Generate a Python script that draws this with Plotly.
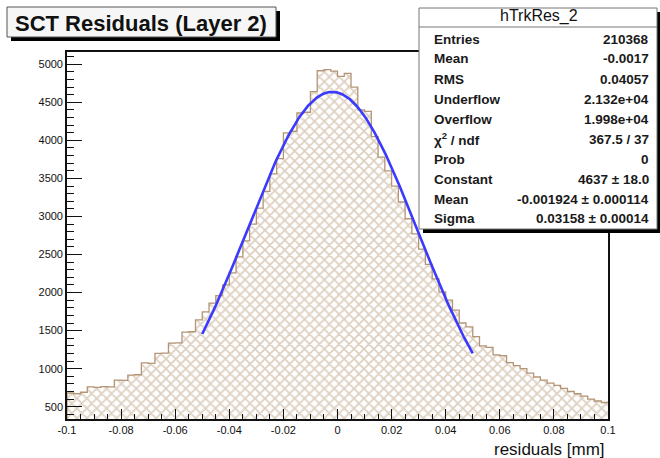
import plotly.graph_objects as go
import math

# ---------------- data ----------------
x_min, x_max, n_bins = -0.1, 0.1, 80
counts = [680, 670, 690, 760, 755, 765, 760, 850, 845, 915,
          920, 1075, 1070, 1200, 1205, 1335, 1340, 1480, 1485, 1640,
          1745, 1860, 1960, 2100, 2260, 2470, 2680, 2900, 3110, 3330,
          3560, 3760, 4100, 4120, 4360, 4370, 4640, 4915, 4930, 4910,
          4840, 4880, 4700, 4400, 4380, 4050, 3780, 3600, 3400, 3190,
          2970, 2770, 2570, 2370, 2180, 2010, 1900, 1770, 1600, 1550,
          1420, 1300, 1280, 1180, 1170, 1080, 1040, 1000, 940, 890,
          850, 810, 780, 740, 700, 670, 640, 600, 575, 555]

fit_constant = 4637.0
fit_mean = -0.001924
fit_sigma = 0.03158
fit_range = (-0.05, 0.05)

x_tickvals = [-0.1, -0.08, -0.06, -0.04, -0.02, 0, 0.02, 0.04, 0.06, 0.08, 0.1]
x_ticktext = ["-0.1", "-0.08", "-0.06", "-0.04", "-0.02", "0", "0.02", "0.04", "0.06", "0.08", "0.1"]
y_tickvals = [500, 1000, 1500, 2000, 2500, 3000, 3500, 4000, 4500, 5000]
y_ticktext = [str(v) for v in y_tickvals]

stats_title = "hTrkRes_2"
stats_labels = ["Entries", "Mean", "RMS", "Underflow", "Overflow", "χ<sup>2</sup> / ndf",
                "Prob", "Constant", "Mean", "Sigma"]
stats_values = ["210368", "-0.0017", "0.04057", "2.132e+04", "1.998e+04", "367.5 / 37",
                "0", "4637 ± 18.0", "-0.001924 ± 0.000114", "0.03158 ± 0.00014"]
title_text = "SCT Residuals (Layer 2)"
x_title = "residuals [mm]"

# ---------------- derived ----------------
bw = (x_max - x_min) / n_bins
centers = [x_min + bw * (i + 0.5) for i in range(n_bins)]
edges = [x_min + bw * i for i in range(n_bins + 1)]

n_fit = 301
fx = [fit_range[0] + (fit_range[1] - fit_range[0]) * i / (n_fit - 1) for i in range(n_fit)]
fy = [fit_constant * math.exp(-0.5 * ((v - fit_mean) / fit_sigma) ** 2) for v in fx]

# layout geometry (pixels)
W, H = 660, 458
L, R, T, B = 67, 608, 52, 419
PW, PH = R - L, B - T
y_lo, y_hi = 338.3, 5161.6

def px(xp):
    return (xp - L) / PW

def py(yp):
    return (B - yp) / PH

FONT = "Liberation Sans, Arial, Helvetica, sans-serif"
hatch = "#bb9f80"

fig = go.Figure()
fig.add_trace(go.Bar(
    x=centers, y=counts, width=bw,
    marker=dict(color="white", line=dict(width=0),
                pattern=dict(shape="x", fgcolor=hatch, bgcolor="white",
                             size=7, solidity=0.42)),
    showlegend=False, hoverinfo="skip"))
# histogram outline
fig.add_trace(go.Scatter(
    x=[edges[0]] + edges, y=[0] + counts + [counts[-1]],
    mode="lines", line=dict(color="#b39576", width=1.3, shape="hv"),
    showlegend=False, hoverinfo="skip"))
fig.add_trace(go.Scatter(
    x=fx, y=fy, mode="lines", line=dict(color="#3a3aff", width=2.6),
    showlegend=False, hoverinfo="skip"))

fig.update_layout(
    width=W, height=H,
    margin=dict(l=L, r=W - R, t=T, b=H - B),
    paper_bgcolor="white", plot_bgcolor="white",
    bargap=0,
    font=dict(family=FONT, color="#111"),
)
fig.update_xaxes(
    range=[x_min, x_max], showgrid=False, zeroline=False,
    showline=True, linecolor="#111", linewidth=1.6, mirror=True,
    ticks="inside", ticklen=10, tickwidth=1.3, tickcolor="#111",
    tickvals=x_tickvals, ticktext=x_ticktext,
    tickfont=dict(size=11, family=FONT, color="#111"),
    minor=dict(dtick=0.005, ticks="inside", ticklen=5, tickwidth=1, tickcolor="#111"),
)
fig.update_yaxes(
    range=[y_lo, y_hi], showgrid=False, zeroline=False,
    showline=True, linecolor="#111", linewidth=1.6, mirror=True,
    ticks="inside", ticklen=15, tickwidth=1.3, tickcolor="#111",
    tickvals=y_tickvals, ticktext=y_ticktext,
    tickfont=dict(size=11, family=FONT, color="#111"),
    minor=dict(dtick=100, ticks="inside", ticklen=7, tickwidth=1, tickcolor="#111"),
)

shapes = []
# title box with shadow
shapes.append(dict(type="rect", xref="paper", yref="paper",
                   x0=px(11), x1=px(280), y0=py(41), y1=py(11),
                   fillcolor="black", line=dict(width=0), layer="above"))
shapes.append(dict(type="rect", xref="paper", yref="paper",
                   x0=px(7), x1=px(276), y0=py(37), y1=py(7),
                   fillcolor="#f6f6f6", line=dict(color="#555", width=1), layer="above"))
# stats box with shadow
shapes.append(dict(type="rect", xref="paper", yref="paper",
                   x0=px(423), x1=px(662), y0=py(233), y1=py(12),
                   fillcolor="black", line=dict(width=0), layer="above"))
shapes.append(dict(type="rect", xref="paper", yref="paper",
                   x0=px(419), x1=px(657), y0=py(229), y1=py(8),
                   fillcolor="white", line=dict(color="#777", width=1), layer="above"))
shapes.append(dict(type="line", xref="paper", yref="paper",
                   x0=px(419), x1=px(657), y0=py(27), y1=py(27),
                   line=dict(color="#777", width=1), layer="above"))
fig.update_layout(shapes=shapes)

ann = []
ann.append(dict(text="<b>" + title_text + "</b>", xref="paper", yref="paper",
                x=px(141), y=py(23), xanchor="center", yanchor="middle",
                showarrow=False, font=dict(size=22, family=FONT, color="#111")))
ann.append(dict(text=stats_title, xref="paper", yref="paper",
                x=px(539), y=py(16), xanchor="center", yanchor="middle",
                showarrow=False, font=dict(size=16, family=FONT, color="#111")))
for i, (lab, val) in enumerate(zip(stats_labels, stats_values)):
    yy = 39 + 20 * i
    ann.append(dict(text="<b>" + lab + "</b>", xref="paper", yref="paper", x=px(432), y=py(yy),
                    xanchor="left", yanchor="middle", showarrow=False,
                    font=dict(size=13.5, family=FONT, color="#1a1a1a")))
    ann.append(dict(text="<b>" + val + "</b>", xref="paper", yref="paper", x=px(651), y=py(yy),
                    xanchor="right", yanchor="middle", showarrow=False,
                    font=dict(size=13.5, family=FONT, color="#1a1a1a")))
ann.append(dict(text=x_title, xref="paper", yref="paper", x=px(607), y=py(449),
                xanchor="right", yanchor="middle", showarrow=False,
                font=dict(size=17, family=FONT, color="#111")))
fig.update_layout(annotations=ann)

fig.write_html("out.html")
